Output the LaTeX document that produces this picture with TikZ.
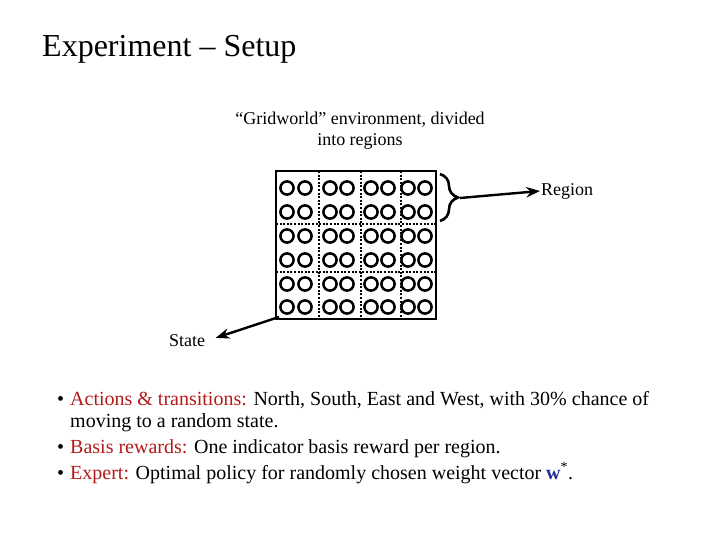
\documentclass[tikz,border=0pt]{standalone}
\usepackage{fontspec}
\setmainfont{Liberation Serif}
\usetikzlibrary{arrows.meta,positioning,decorations.pathreplacing}
\definecolor{slideRed}{HTML}{B31B1B}
\definecolor{slideBlue}{HTML}{1F2A9A}
\definecolor{slideInk}{HTML}{000000}

\begin{document}
\begin{tikzpicture}[x=1pt,y=-1pt,>=Stealth,line cap=butt,line join=miter]
\path[fill=white] (0,0) rectangle (720,540);
\useasboundingbox (0,0) rectangle (720,540);
\tikzset{label/.style={text=slideInk,font=\fontsize{18}{21}\selectfont,inner sep=1pt},bullet/.style={anchor=base west,text=slideInk,font=\fontsize{20}{22}\selectfont,inner sep=0pt,align=left},thickwire/.style={draw=black,line width=2.6pt},dotwire/.style={draw=black,line width=2.4pt,dash pattern=on 2pt off 1.6pt},cell/.style={draw=black,line width=2.5pt}}
\node[anchor=base west,text=slideInk,font=\fontsize{32}{36}\selectfont,inner sep=0pt] (title) at (42,57) {Experiment -- Setup};
\node[label,align=center] (caption) at (360,131) {``Gridworld'' environment, divided\\into regions};
% grid of states
\draw[dotwire] (319,171) -- (319,319); \draw[dotwire] (361,171) -- (361,319); \draw[dotwire] (401,171) -- (401,319);
\draw[dotwire] (276,224) -- (436,224); \draw[dotwire] (276,272) -- (436,272);
\foreach \cx in {287,305,330,347,371,388,408,425}
  \foreach \cy in {188,212,236,260,284,307}
    \draw[cell,fill=white] (\cx,\cy) circle (6.6);
\node[thickwire,minimum width=160pt,minimum height=148pt,inner sep=0pt] (grid) at (356,245) {};
% region brace
\draw[thickwire,decorate,decoration={brace,amplitude=18pt,raise=0pt}] (440,174) -- (440,221);
\coordinate (braceTip) at (460,198);
\node[label,anchor=west] (region) at (540,191) {Region};
\draw[->,line width=2.4pt] (braceTip) -- (region.west);
% state pointer
\coordinate (gridCorner) at (279,317);
\node[label] (state) at (187,341) {State};
\draw[->,line width=2.4pt,shorten >=10pt] (gridCorner) -- (state.east);
% bullets
\node[bullet] (actions) at (70,427) {\llap{\textbullet\hspace{6pt}}\textcolor{slideRed}{Actions \& transitions:} North, South, East and West, with 30\% chance of\\moving to a random state.};
\node[bullet] (rewards) at (70,453) {\llap{\textbullet\hspace{6pt}}\textcolor{slideRed}{Basis rewards:} One indicator basis reward per region.};
\node[bullet] (expert) at (70,479) {\llap{\textbullet\hspace{6pt}}\textcolor{slideRed}{Expert:} Optimal policy for randomly chosen weight vector \textcolor{slideBlue}{\textbf{w}}\textsuperscript{*}.};
\end{tikzpicture}
\end{document}
